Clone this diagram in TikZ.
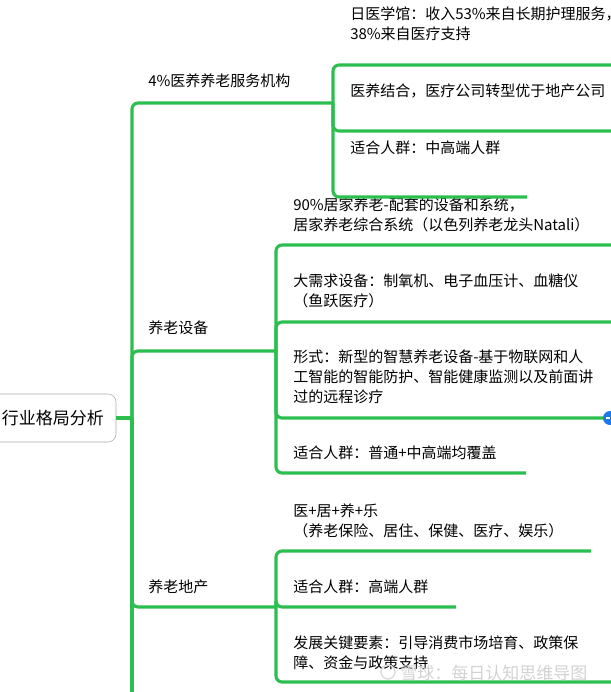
\documentclass[tikz,border=0pt]{standalone}
\usepackage{fontspec}
\setmainfont{Noto Sans CJK SC}
\definecolor{mapgreen}{RGB}{44,190,78}
\definecolor{rootgray}{RGB}{170,170,170}
\definecolor{foldblue}{RGB}{30,120,230}

\begin{document}
\begin{tikzpicture}[x=0.75pt,y=-0.75pt,
    topic/.style={anchor=base west, inner sep=0pt, align=left, font=\fontsize{11.25pt}{15pt}\selectfont},
    branch/.style={draw=mapgreen, line width=2.3pt, rounded corners=4.5pt}]
      \useasboundingbox (0,0) rectangle (610,692);

      % root
      \node [draw=rootgray, fill=white, rounded corners=6pt, minimum width=94.5pt, minimum height=36pt, inner sep=0pt, font=\fontsize{12.75pt}{15pt}\selectfont] (root) at (53,418) {行业格局分析};
      \coordinate (trunk) at (132,418);
      \coordinate (more) at (132,700);

      % first level
      \node [topic] (medcare) at (148,87) {4\%医养养老服务机构};
      \node [topic] (device) at (148,333) {养老设备};
      \node [topic] (estate) at (148,592) {养老地产};
      \coordinate (j1) at (333,103);
      \coordinate (j2) at (276,351);
      \coordinate (j3) at (276,607);

      % second level, 4% medcare (base = last line)
      \node [topic] (m1) at (350,40) {日医学馆：收入53\%来自长期护理服务，\\38\%来自医疗支持};
      \node [topic] (m2) at (350,96) {医养结合，医疗公司转型优于地产公司};
      \node [topic] (m3) at (350,153) {适合人群：中高端人群};
      \coordinate (m1e) at (614,65);
      \coordinate (m2e) at (614,131);
      \coordinate (m3e) at (527,197);

      % second level, devices
      \node [topic] (d1) at (293,230) {90\%居家养老-配套的设备和系统，\\居家养老综合系统（以色列养老龙头Natali）};
      \node [topic] (d2) at (293,306) {大需求设备：制氧机、电子血压计、血糖仪\\（鱼跃医疗）};
      \node [topic] (d3) at (293,402) {形式：新型的智慧养老设备-基于物联网和人\\工智能的智能防护、智能健康监测以及前面讲\\过的远程诊疗};
      \node [topic] (d4) at (293,458) {适合人群：普通+中高端均覆盖};
      \coordinate (d1e) at (614,245);
      \coordinate (d2e) at (614,322);
      \coordinate (d3e) at (614,418);
      \coordinate (d4e) at (526,473);

      % second level, real estate
      \node [topic] (e1) at (293,536) {医+居+养+乐\\（养老保险、居住、保健、医疗、娱乐）};
      \node [topic] (e2) at (293,592) {适合人群：高端人群};
      \node [topic] (e3) at (293,668) {发展关键要素：引导消费市场培育、政策保\\障、资金与政策支持};
      \coordinate (e1e) at (591,551);
      \coordinate (e2e) at (456,607);
      \coordinate (e3e) at (614,682);

      \draw [branch] (root.east) -- (trunk);
      \draw [branch] (trunk) -- (more);
      \draw [branch] (trunk) |- (j1);
      \draw [branch] (trunk) |- (j2);
      \draw [branch] (trunk) |- (j3);

      \draw [branch] (j1) |- (m1e);
      \draw [branch] (j1) |- (m2e);
      \draw [branch] (j1) |- (m3e);
      \draw [branch] (j2) |- (d1e);
      \draw [branch] (j2) |- (d2e);
      \draw [branch] (j2) |- (d3e);
      \draw [branch] (j2) |- (d4e);
      \draw [branch] (j3) |- (e1e);
      \draw [branch] (j3) |- (e2e);
      \draw [branch] (j3) |- (e3e);

      % fold button
      \node [circle, fill=foldblue, minimum size=10.5pt, inner sep=0pt] (fold) at (610,418) {};
      \draw [white, line width=1.3pt] (fold.center) -- ++(-4,0);

      % watermark
      \draw [gray!30, line width=1pt] (388,672) circle [radius=7];
      \node [anchor=base west, inner sep=0pt, text=gray!35, font=\fontsize{12.75pt}{15pt}\selectfont] (mark) at (400,679) {雪球：每日认知思维导图};
\end{tikzpicture}
\end{document}
